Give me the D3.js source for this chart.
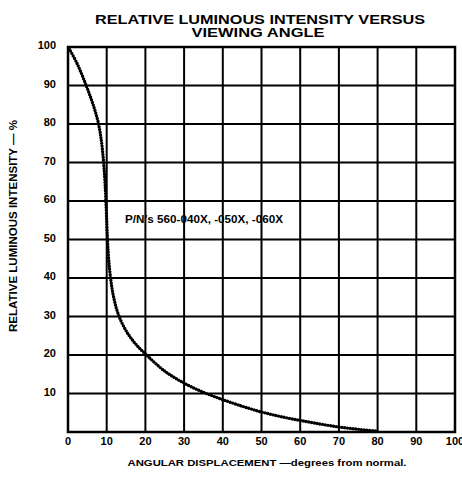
<!DOCTYPE html>
<html><head><meta charset="utf-8">
<script src="https://cdn.jsdelivr.net/npm/d3@7"></script>
<style>html,body{margin:0;padding:0;background:#fff;}svg{display:block;}</style>
</head><body>
<svg id="chart" width="462" height="479"></svg>
<script>
const titleLines = ["RELATIVE LUMINOUS INTENSITY VERSUS", "VIEWING ANGLE"];
const xTitle = "ANGULAR DISPLACEMENT \u2014degrees from normal.";
const yTitle = "RELATIVE LUMINOUS INTENSITY \u2014 %";
const seriesLabel = "P/N\u2019s 560-040X, -050X, -060X";
const xTicks = [0,10,20,30,40,50,60,70,80,90,100];
const yTicks = [10,20,30,40,50,60,70,80,90,100];
const angle =     [0.3, 2.4, 4.7, 6.5, 7.9, 8.7, 9.2, 9.55, 9.8, 10.0, 10.2, 10.5, 11.0, 11.8, 13.2, 15.5, 17.8, 20.3, 25, 30, 35, 40, 45, 50, 55, 60, 65, 70, 75, 80];
const intensity = [99.6, 95.6, 90, 85, 80, 75, 70, 65, 60, 55, 50, 45, 40, 35, 30, 25.5, 22.5, 20, 15.8, 12.7, 10.3, 8.4, 6.7, 5.2, 4.0, 3.0, 2.1, 1.3, 0.7, 0.2];

const svg = d3.select("#chart");
const x = d3.scaleLinear().domain([0,100]).range([68,455]);
const y = d3.scaleLinear().domain([0,100]).range([432,47]);
const font = "'Liberation Sans', Arial, Helvetica, sans-serif";

// grid
const g = svg.append("g");
g.selectAll(".vg").data(xTicks.slice(1,-1)).enter().append("line")
  .attr("x1", d=>x(d)).attr("x2", d=>x(d)).attr("y1", y(0)).attr("y2", y(100))
  .attr("stroke","#000").attr("stroke-width",2);
g.selectAll(".hg").data(yTicks.slice(0,-1)).enter().append("line")
  .attr("y1", d=>y(d)).attr("y2", d=>y(d)).attr("x1", x(0)).attr("x2", x(100))
  .attr("stroke","#000").attr("stroke-width",1.8);
g.append("rect").attr("x", x(0)).attr("y", y(100)).attr("width", x(100)-x(0)).attr("height", y(0)-y(100))
  .attr("fill","none").attr("stroke","#000").attr("stroke-width",2.5);

// curve
const pts = angle.map((a,i)=>[a,intensity[i]]);
const line = d3.line().x(d=>x(d[0])).y(d=>y(d[1])).curve(d3.curveCatmullRom.alpha(0.5));
svg.append("path").attr("d", line(pts)).attr("fill","none").attr("stroke","#000")
  .attr("stroke-width",3.4).attr("stroke-linecap","round").attr("stroke-dasharray","0 2.8");

// tick labels
svg.selectAll(".yl").data(yTicks).enter().append("text")
  .attr("x", 56).attr("y", d=>y(d)+2).attr("text-anchor","end")
  .attr("font-family",font).attr("font-weight","bold").attr("font-size",11).text(d=>d);
svg.selectAll(".xl").data(xTicks).enter().append("text")
  .attr("x", d=>x(d)).attr("y", 445).attr("text-anchor","middle")
  .attr("font-family",font).attr("font-weight","bold").attr("font-size",11).text(d=>d);

// titles
svg.append("text").attr("x",260).attr("y",24).attr("text-anchor","middle")
  .attr("font-family",font).attr("font-weight","bold").attr("font-size",12.5)
  .attr("textLength",330).attr("lengthAdjust","spacingAndGlyphs").text(titleLines[0]);
svg.append("text").attr("x",258).attr("y",37).attr("text-anchor","middle")
  .attr("font-family",font).attr("font-weight","bold").attr("font-size",12.5)
  .attr("textLength",133).attr("lengthAdjust","spacingAndGlyphs").text(titleLines[1]);
svg.append("text").attr("x",267).attr("y",466).attr("text-anchor","middle")
  .attr("font-family",font).attr("font-weight","bold").attr("font-size",9.5)
  .attr("textLength",279).attr("lengthAdjust","spacingAndGlyphs").text(xTitle);
svg.append("text").attr("transform","translate(17,226) rotate(-90)").attr("text-anchor","middle")
  .attr("font-family",font).attr("font-weight","bold").attr("font-size",10)
  .attr("textLength",212).attr("lengthAdjust","spacingAndGlyphs").text(yTitle);
svg.append("text").attr("x",125).attr("y",223)
  .attr("font-family",font).attr("font-weight","bold").attr("font-size",10.5)
  .attr("textLength",158).attr("lengthAdjust","spacingAndGlyphs").text(seriesLabel);
</script>
</body></html>
